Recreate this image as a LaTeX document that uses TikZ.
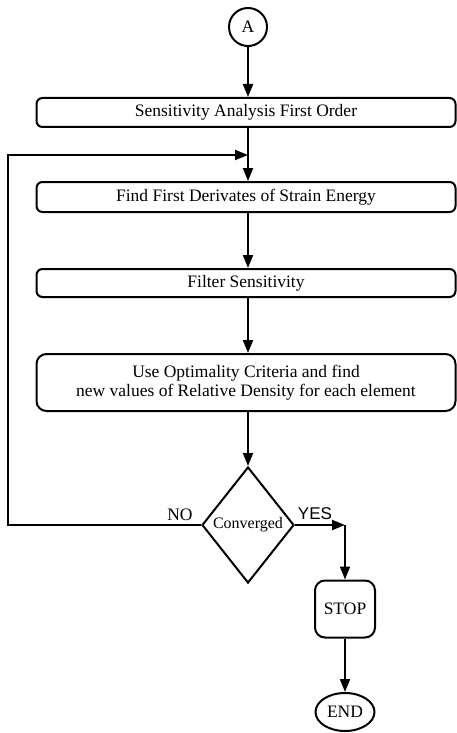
\documentclass[tikz,border=0pt]{standalone}
\usepackage{fontspec}
\setmainfont{Liberation Serif}
\setsansfont{Liberation Sans}
\usetikzlibrary{arrows.meta,shapes.geometric}
\begin{document}
\begin{tikzpicture}[>={Triangle[length=13pt,width=10pt]}, x=1pt, y=-1pt,
    line width=2pt, font=\fontsize{17.5}{19.5}\selectfont,
    stepbox/.style={draw, rounded corners=6pt, minimum width=419pt, inner sep=0pt},
    decide/.style={draw, diamond, aspect=0.8, inner sep=0pt, minimum width=92pt, minimum height=116pt}]
    \useasboundingbox (0,0) rectangle (457,733);
    \node[draw, circle, minimum size=38pt, inner sep=0pt] (A) at (248,27) {A};
    \node[stepbox, minimum height=29pt] (sens) at (246,112.5) {Sensitivity Analysis First Order};
    \node[stepbox, minimum height=30pt] (deriv) at (246,197) {Find First Derivates of Strain Energy};
    \node[stepbox, minimum height=28pt] (filt) at (246,283) {Filter Sensitivity};
    \node[stepbox, minimum height=57pt, rounded corners=10pt, align=center] (oc) at (246,382.5)
        {Use Optimality Criteria and find\\ new values of Relative Density for each element};
    \node[decide, font=\fontsize{16}{18}\selectfont] (conv) at (248,525) {Converged};
    \node[draw, rounded corners=10pt, minimum width=60pt, minimum height=57pt, inner sep=0pt] (stop) at (345,609) {STOP};
    \node[draw, ellipse, minimum width=59pt, minimum height=38pt, inner sep=0pt] (end) at (345,712) {END};
    \coordinate (fb) at (248,155);
    \coordinate (lft) at (8,155);
    \coordinate (yes) at (345,525);
    \draw[->](A)--(A |- sens.north);
    \draw[->](A |- sens.south)--(A |- deriv.north);
    \draw[->](A |- deriv.south)--(A |- filt.north);
    \draw[->](A |- filt.south)--(A |- oc.north);
    \draw[->](A |- oc.south)--(conv);
    \draw[->](conv.west)-|(lft)--(fb);
    \draw[->](conv.east)--(yes);
    \draw[->](yes)--(stop);
    \draw[->](stop)--(end);
    \node (no) at (180,515) {NO};
    \node[font=\sffamily\fontsize{17}{19}\selectfont] (yeslbl) at (315,514) {YES};
\end{tikzpicture}
\end{document}
